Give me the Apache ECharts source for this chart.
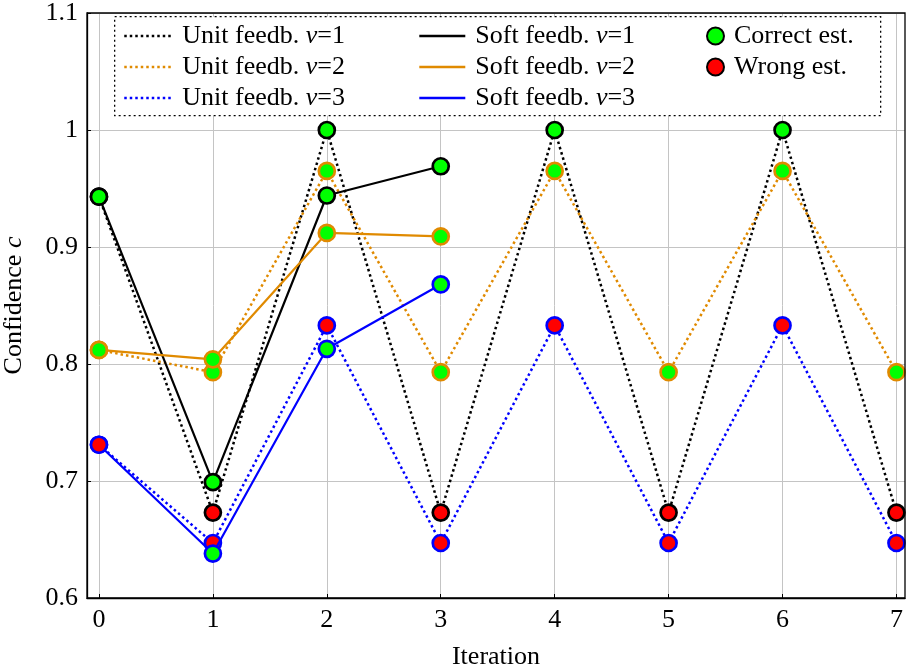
<!DOCTYPE html>
<html>
<head>
<meta charset="utf-8">
<script src="https://cdn.jsdelivr.net/npm/echarts@6/dist/echarts.min.js"></script>
<style>html,body{margin:0;padding:0;background:#fff}#c{width:906px;height:670px}</style>
</head>
<body>
<div id="c"></div>
<script>
// ---- data ----
const iterations = [0, 1, 2, 3, 4, 5, 6, 7];
const xTicks = [0, 1, 2, 3, 4, 5, 6, 7];
const yTicks = [0.6, 0.7, 0.8, 0.9, 1.0, 1.1];

const unit1 = [0.943, 0.673, 1.0, 0.673, 1.0, 0.673, 1.0, 0.673];
const unit1Correct = [1, 0, 1, 0, 1, 0, 1, 0];
const unit2 = [0.812, 0.793, 0.965, 0.793, 0.965, 0.793, 0.965, 0.793];
const unit2Correct = [1, 1, 1, 1, 1, 1, 1, 1];
const unit3 = [0.731, 0.647, 0.833, 0.647, 0.833, 0.647, 0.833, 0.647];
const unit3Correct = [0, 0, 0, 0, 0, 0, 0, 0];

const soft1 = [0.943, 0.699, 0.944, 0.969];
const soft1Correct = [1, 1, 1, 1];
const soft2 = [0.812, 0.804, 0.912, 0.909];
const soft2Correct = [1, 1, 1, 1];
const soft3 = [0.731, 0.638, 0.813, 0.868];
const soft3Correct = [0, 1, 1, 1];

const seriesNames = {
  u1: 'Unit feedb. v=1', u2: 'Unit feedb. v=2', u3: 'Unit feedb. v=3',
  s1: 'Soft feedb. v=1', s2: 'Soft feedb. v=2', s3: 'Soft feedb. v=3'
};
const correctName = 'Correct est.';
const wrongName = 'Wrong est.';

// ---- styles ----
const FONT = 'Liberation Serif';
const FS = 26;
const BLACK = '#000000', ORANGE = '#e08a00', BLUE = '#0000ff';
const GREEN = '#00ff00', RED = '#ff0000';
const DOT = [2.5, 3];

function pairs(vals) { return vals.map((v, i) => [iterations[i], v]); }

function lineSeries(name, vals, color, dotted, z) {
  return {
    name: name, type: 'line', data: pairs(vals), symbol: 'none',
    lineStyle: { color: color, width: dotted ? 2.5 : 2.2, type: dotted ? DOT : 'solid', cap: 'butt' },
    itemStyle: { color: color },
    z: z, animation: false, silent: true
  };
}
function markerSeries(vals, correct, border, z) {
  return {
    name: '_m', type: 'scatter', symbol: 'circle', symbolSize: 16,
    data: vals.map((v, i) => ({
      value: [iterations[i], v],
      itemStyle: { color: correct[i] ? GREEN : RED }
    })),
    itemStyle: { borderColor: border, borderWidth: 2.7, opacity: 1 },
    z: z, animation: false, silent: true
  };
}

const richText = {
  a: { fontFamily: FONT, fontSize: FS, color: '#000' },
  i: { fontFamily: FONT, fontSize: FS, fontStyle: 'italic', color: '#000' }
};
function fmtName(name) {
  const m = name.match(/^(.*)v=(\d)$/);
  if (m) return '{a|' + m[1] + '}{i|v}{a|=' + m[2] + '}';
  return '{a|' + name + '}';
}

const legendCommon = {
  orient: 'vertical', top: 23, itemGap: 5, selectedMode: false, z: 20, padding: 0,
  textStyle: { lineHeight: 24, rich: richText, padding: [0, 0, 0, 5] },
  formatter: fmtName
};

const option = {
  backgroundColor: '#fff',
  animation: false,
  grid: { left: 87, right: 1, top: 13, bottom: 72, show: true, borderColor: '#000', borderWidth: 1.3, z: 5, outerBoundsMode: 'none', containLabel: false },
  xAxis: {
    type: 'value', min: -0.105, max: 7.075,
    name: 'Iteration', nameLocation: 'middle', nameGap: 46,
    nameTextStyle: { fontFamily: FONT, fontSize: FS, color: '#000' },
    axisLine: { show: true, onZero: false, lineStyle: { color: '#000', width: 1.3 } },
    axisTick: { show: true, inside: true, length: 4, customValues: xTicks, lineStyle: { color: '#000' } },
    axisLabel: { customValues: xTicks, margin: 9, fontFamily: FONT, fontSize: FS, color: '#000' },
    splitLine: { show: true, lineStyle: { color: '#c4c4c4', width: 1 } }
  },
  yAxis: {
    type: 'value', min: 0.6, max: 1.1, interval: 0.1,
    name: '{a|Confidence }{i|c}', nameLocation: 'middle', nameGap: 60,
    nameTextStyle: { rich: richText },
    axisLine: { show: true, onZero: false, lineStyle: { color: '#000', width: 1.3 } },
    axisTick: { show: true, inside: true, length: 4, lineStyle: { color: '#000' } },
    axisLabel: {
      margin: 9, fontFamily: FONT, fontSize: FS, color: '#000',
      formatter: v => { const t = yTicks.find(y => Math.abs(y - v) < 1e-6); return t === undefined ? '' : String(Math.round(t * 10) / 10); }
    },
    splitLine: { show: true, lineStyle: { color: '#c4c4c4', width: 1 } }
  },
  legend: [
    Object.assign({}, legendCommon, { left: 123, itemWidth: 48, itemHeight: 14, itemStyle: { opacity: 0 }, lineStyle: { width: 2.5 }, data: [seriesNames.u1, seriesNames.u2, seriesNames.u3] }),
    Object.assign({}, legendCommon, { left: 418, itemWidth: 46, itemHeight: 14, itemStyle: { opacity: 0 }, lineStyle: { width: 2.6 }, data: [seriesNames.s1, seriesNames.s2, seriesNames.s3] }),
    Object.assign({}, legendCommon, { left: 706, itemWidth: 17, itemHeight: 17, icon: 'circle', data: [correctName, wrongName] })
  ],
  graphic: [{
    type: 'rect', left: 114, top: 16, z: 10, silent: true,
    shape: { width: 766, height: 99 },
    style: { fill: '#fff', stroke: '#000', lineWidth: 1.3, lineDash: [2, 3] }
  }],
  series: [
    lineSeries(seriesNames.u1, unit1, BLACK, true, 2),
    lineSeries(seriesNames.u2, unit2, ORANGE, true, 2),
    lineSeries(seriesNames.u3, unit3, BLUE, true, 2),
    markerSeries(unit1, unit1Correct, BLACK, 3),
    markerSeries(unit2, unit2Correct, ORANGE, 3),
    markerSeries(unit3, unit3Correct, BLUE, 3),
    lineSeries(seriesNames.s1, soft1, BLACK, false, 4),
    lineSeries(seriesNames.s2, soft2, ORANGE, false, 4),
    lineSeries(seriesNames.s3, soft3, BLUE, false, 4),
    markerSeries(soft1, soft1Correct, BLACK, 5),
    markerSeries(soft2, soft2Correct, ORANGE, 5),
    markerSeries(soft3, soft3Correct, BLUE, 5),
    { name: correctName, type: 'scatter', data: [], itemStyle: { color: GREEN, borderColor: BLACK, borderWidth: 2.7, opacity: 1 } },
    { name: wrongName, type: 'scatter', data: [], itemStyle: { color: RED, borderColor: BLACK, borderWidth: 2.7, opacity: 1 } }
  ]
};

const chart = echarts.init(document.getElementById('c'), null, { renderer: 'canvas' });
chart.setOption(option);
</script>
</body>
</html>
